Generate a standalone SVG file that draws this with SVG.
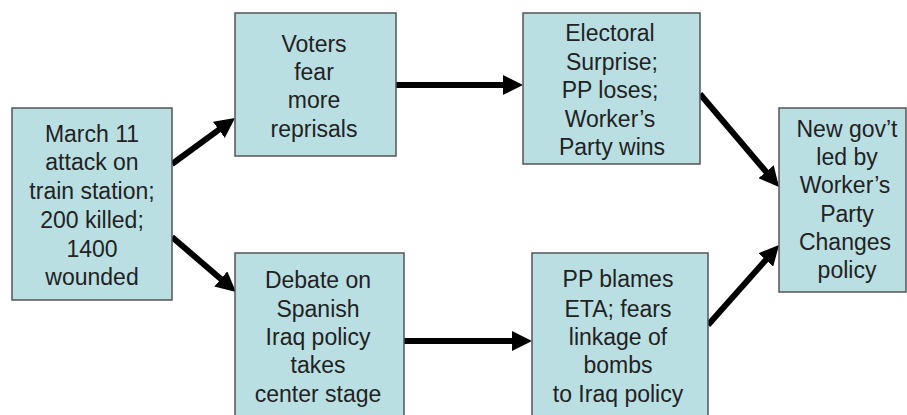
<svg xmlns="http://www.w3.org/2000/svg" width="907" height="415" viewBox="0 0 907 415">
<style>
.box{fill:#badfe2;stroke:#555;stroke-width:1.5}
.t{font-family:"Liberation Sans",Arial,sans-serif;font-size:23px;fill:#222;text-anchor:middle}
.c{stroke:#000;stroke-width:6;fill:none;marker-end:url(#ah)}
</style>
<defs>
<marker id="ah" markerUnits="userSpaceOnUse" markerWidth="20" markerHeight="20" refX="7" refY="10" orient="auto" viewBox="0 0 20 20">
<path d="M0,0 L20,10 L0,20 z" fill="#000"/>
</marker>
</defs>
<rect width="907" height="415" fill="#fff"/>
<g id="connectors">
<line class="c" x1="172" y1="164" x2="224.5" y2="125.7"/>
<line class="c" x1="172" y1="237" x2="226.1" y2="283.5"/>
<line class="c" x1="396" y1="85" x2="510" y2="85"/>
<line class="c" x1="404" y1="341" x2="519" y2="341"/>
<line class="c" x1="700" y1="94" x2="770.6" y2="177.1"/>
<line class="c" x1="708" y1="325" x2="770.4" y2="254.7"/>
</g>
<g id="n1">
<rect class="box" x="12" y="108" width="160" height="192"/>
<text class="t" x="92" y="142">March 11</text>
<text class="t" x="92" y="170">attack on</text>
<text class="t" x="92" y="199">train station;</text>
<text class="t" x="92" y="228">200 killed;</text>
<text class="t" x="92" y="257">1400</text>
<text class="t" x="92" y="285">wounded</text>
</g>
<g id="n2">
<rect class="box" x="235" y="13" width="161" height="143"/>
<text class="t" x="314" y="52">Voters</text>
<text class="t" x="314" y="80">fear</text>
<text class="t" x="314" y="108">more</text>
<text class="t" x="314" y="137">reprisals</text>
</g>
<g id="n3">
<rect class="box" x="235" y="253" width="169" height="170"/>
<text class="t" x="318" y="288">Debate on</text>
<text class="t" x="318" y="317">Spanish</text>
<text class="t" x="318" y="345">Iraq policy</text>
<text class="t" x="318" y="373">takes</text>
<text class="t" x="318" y="402">center stage</text>
</g>
<g id="n4">
<rect class="box" x="523" y="13" width="177" height="151"/>
<text class="t" x="610" y="41">Electoral</text>
<text class="t" x="612" y="70">Surprise;</text>
<text class="t" x="610" y="98">PP loses;</text>
<text class="t" x="610" y="127">Worker’s</text>
<text class="t" x="612" y="155">Party wins</text>
</g>
<g id="n5">
<rect class="box" x="532" y="253" width="176" height="170"/>
<text class="t" x="618" y="287">PP blames</text>
<text class="t" x="618" y="317">ETA; fears</text>
<text class="t" x="618" y="345">linkage of</text>
<text class="t" x="618" y="373">bombs</text>
<text class="t" x="618" y="402">to Iraq policy</text>
</g>
<g id="n6">
<rect class="box" x="779" y="108" width="127" height="184"/>
<text class="t" x="847" y="137">New gov’t</text>
<text class="t" x="847" y="165">led by</text>
<text class="t" x="845" y="193">Worker’s</text>
<text class="t" x="847" y="222">Party</text>
<text class="t" x="845" y="250">Changes</text>
<text class="t" x="847" y="278">policy</text>
</g>
</svg>
